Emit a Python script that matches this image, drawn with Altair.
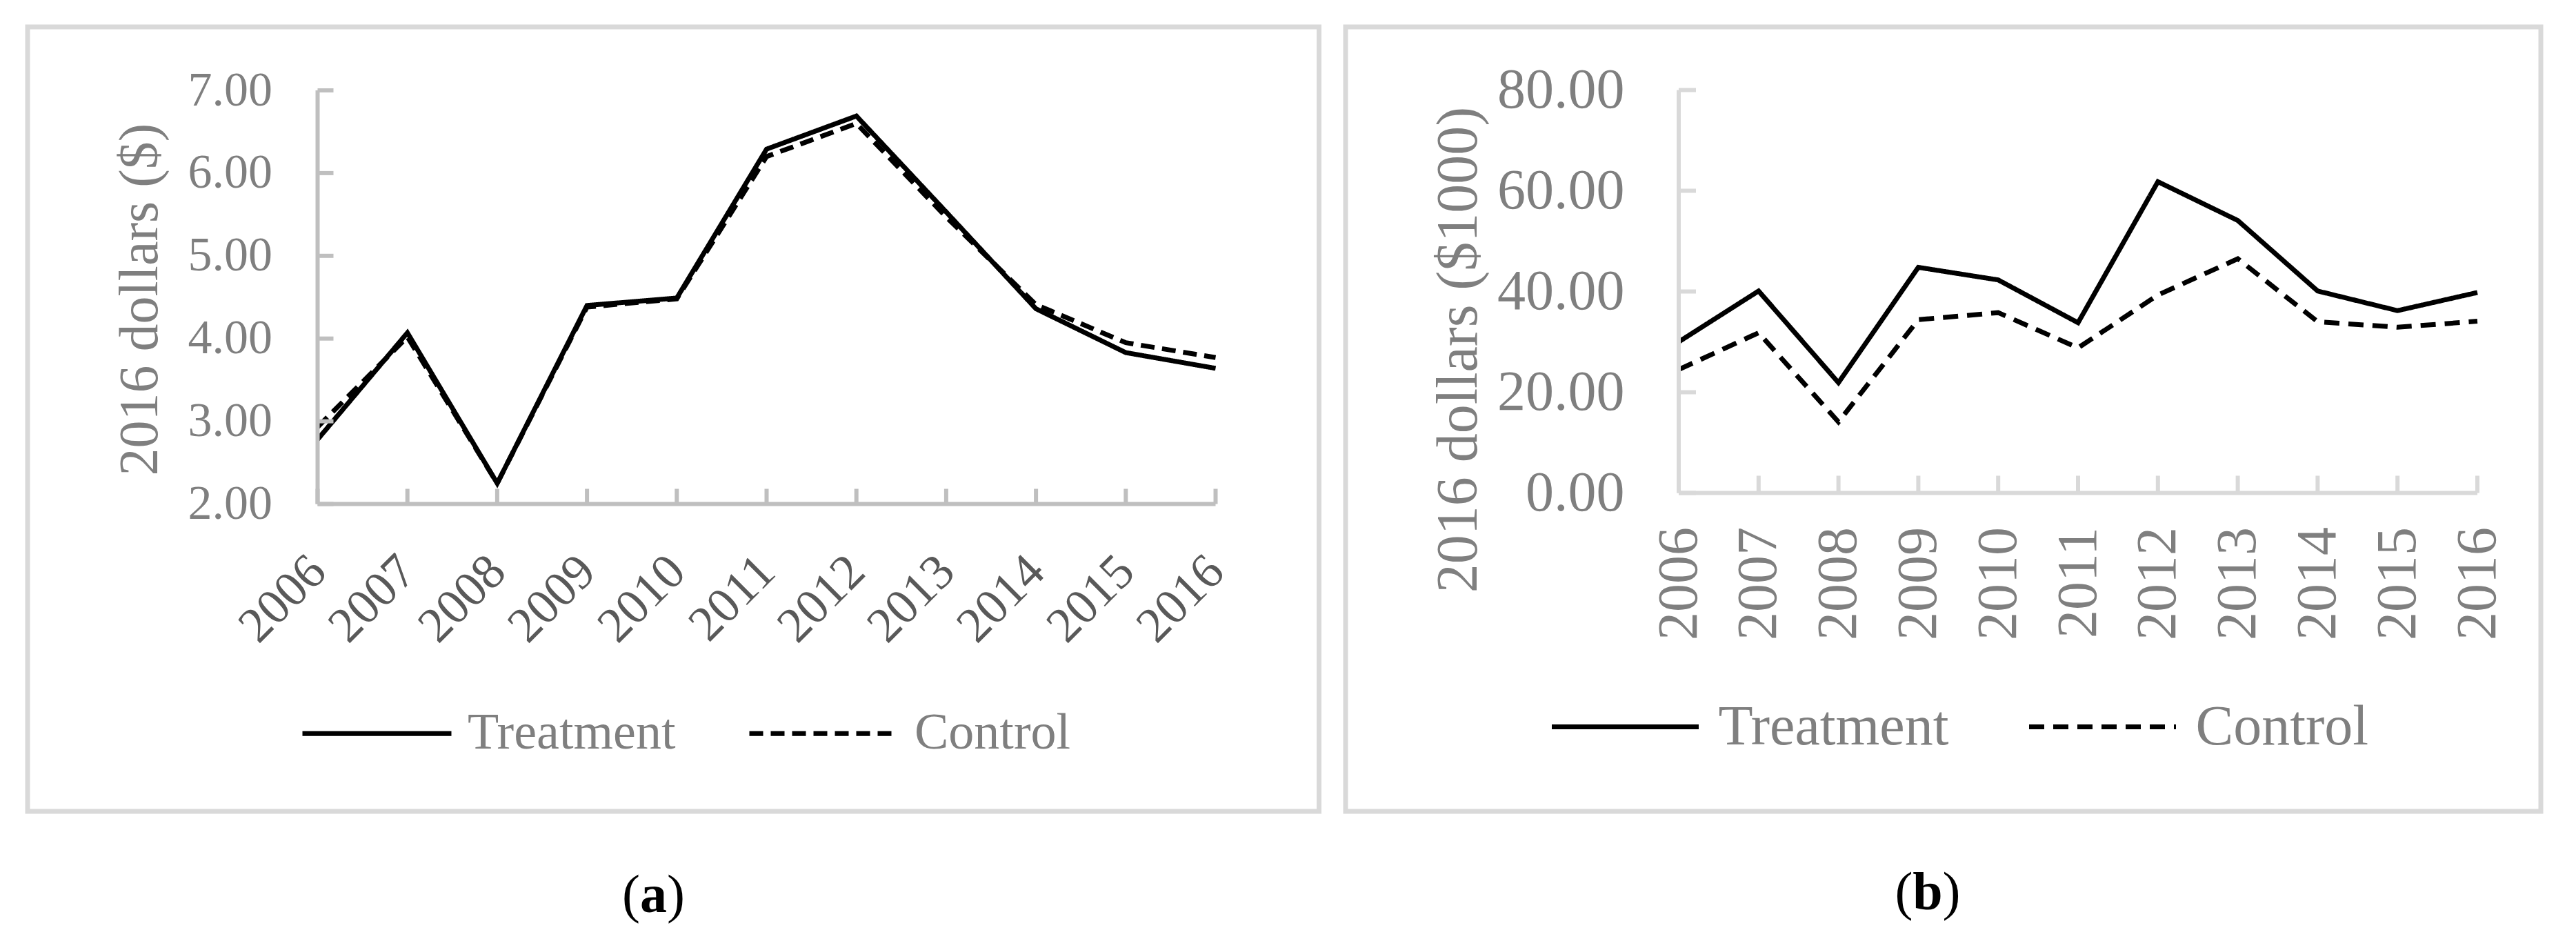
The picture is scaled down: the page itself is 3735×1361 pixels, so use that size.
import altair as alt
import pandas as pd

# ---------------- data ----------------
years = [2006, 2007, 2008, 2009, 2010, 2011, 2012, 2013, 2014, 2015, 2016]
series_names = ["Treatment", "Control"]

a_treatment = [2.78, 4.07, 2.25, 4.40, 4.49, 6.29, 6.69, 5.53, 4.36, 3.83, 3.64]
a_control = [2.93, 4.02, 2.25, 4.38, 4.48, 6.20, 6.60, 5.47, 4.41, 3.95, 3.77]
a_yticks = [2, 3, 4, 5, 6, 7]

b_treatment = [30.0, 40.1, 21.9, 44.8, 42.3, 33.8, 61.8, 54.1, 40.1, 36.2, 39.8]
b_control = [24.5, 31.8, 14.1, 34.4, 35.8, 28.8, 39.3, 46.5, 34.0, 32.9, 34.1]
b_yticks = [0, 20, 40, 60, 80]

captions = [["(", "a", ")"], ["(", "b", ")"]]

FONT = "Liberation Serif"
GRAY = "#7f7f7f"


def long_df(t, c):
    rows = []
    for s, vals in zip(series_names, [t, c]):
        for y, v in zip(years, vals):
            rows.append({"year": y, "value": v, "series": s})
    return pd.DataFrame(rows)


def panel(t, c, yticks, title, cap, cfg):
    W, H = cfg["W"], cfg["H"]
    x0p, x1p = cfg["x0p"], cfg["x1p"]
    ytp, ybp = cfg["ytp"], cfg["ybp"]
    xs = (years[-1] - years[0]) / (x1p - x0p)
    xdom = [years[0] - x0p * xs, years[0] + (W - x0p) * xs]
    ys = (yticks[-1] - yticks[0]) / (ybp - ytp)
    ydom = [yticks[0] - (H - ybp) * ys, yticks[0] + ybp * ys]
    xscale = alt.Scale(domain=xdom, nice=False, zero=False)
    yscale = alt.Scale(domain=ydom, nice=False, zero=False)
    axc = cfg["axc"]

    xaxis = alt.Axis(values=years, format="d", orient="bottom", offset=ybp - H,
                     ticks=False, tickSize=0, domain=False, grid=False,
                     labelAngle=cfg["xangle"], labelAlign="right", labelBaseline="middle",
                     labelPadding=cfg["xpad"], labelFont=FONT, labelFontSize=cfg["xfs"],
                     labelColor=cfg["xcolor"], labelOverlap=False, labelFlush=False,
                     labelLimit=1000, title=None)
    yaxis = alt.Axis(values=yticks, format=".2f", orient="left", offset=-x0p,
                     ticks=False, tickSize=0, domain=False, grid=False,
                     labelPadding=cfg["ypad"], labelFont=FONT, labelFontSize=cfg["yfs"],
                     labelColor=GRAY, labelOverlap=False, labelFlush=False, labelLimit=1000,
                     title=title, titleFont=FONT, titleFontSize=cfg["tfs"], titleFontWeight="normal",
                     titleColor=GRAY, titleAngle=270, titleAlign="center", titleBaseline="middle",
                     titleX=cfg["tx"] - x0p, titleY=cfg["ty"], titleLimit=2000)

    df = long_df(t, c)
    axis_df = pd.DataFrame({"x0": [years[0]], "x1": [years[-1]], "y0": [yticks[0]], "y1": [yticks[-1]]})
    ytick_df = pd.DataFrame({"x": [years[0]] * len(yticks), "y": yticks})
    xtick_df = pd.DataFrame({"x": years, "y": [yticks[0]] * len(years)})

    lines = alt.Chart(df).mark_line(color="black", strokeWidth=cfg["lw"], strokeCap="butt").encode(
        x=alt.X("year:Q", scale=xscale, axis=xaxis),
        y=alt.Y("value:Q", scale=yscale, axis=yaxis),
        strokeDash=alt.StrokeDash(
            "series:N",
            scale=alt.Scale(domain=series_names, range=[[1, 0], cfg["dash"]]),
            sort=series_names,
            legend=alt.Legend(orient="none", legendX=cfg["lgx"], legendY=cfg["lgy"],
                              direction="horizontal", title=None, symbolType="stroke",
                              symbolSize=cfg["lgL"] ** 2, symbolStrokeWidth=7,
                              symbolStrokeColor="black", labelFont=FONT,
                              labelFontSize=cfg["lgfs"], labelColor=GRAY,
                              labelOffset=cfg["lgoff"], columnPadding=cfg["lgcol"],
                              padding=0, labelLimit=2000),
        ),
    )

    yline = alt.Chart(axis_df).mark_rule(color=axc, strokeWidth=6).encode(
        x=alt.X("x0:Q", scale=xscale, axis=xaxis),
        y=alt.Y("y0:Q", scale=yscale, axis=yaxis),
        y2="y1:Q",
    )
    xline = alt.Chart(axis_df).mark_rule(color=axc, strokeWidth=6).encode(
        x=alt.X("x0:Q", scale=xscale, axis=xaxis),
        x2="x1:Q",
        y=alt.Y("y0:Q", scale=yscale, axis=yaxis),
    )
    yt = alt.Chart(ytick_df).mark_rule(color=axc, strokeWidth=6, x2Offset=cfg["ytl"]).encode(
        x=alt.X("x:Q", scale=xscale, axis=xaxis),
        x2="x:Q",
        y=alt.Y("y:Q", scale=yscale, axis=yaxis),
    )
    xt = alt.Chart(xtick_df).mark_rule(color=axc, strokeWidth=6, y2Offset=-cfg["xtl"]).encode(
        x=alt.X("x:Q", scale=xscale, axis=xaxis),
        y=alt.Y("y:Q", scale=yscale, axis=yaxis),
        y2="y:Q",
    )

    cx, cy, cw, cfs = cfg["capx"], cfg["capy"], cfg["capw"], cfg["capfs"]
    cap_layers = []
    for txt, align, xpos, weight in [(cap[0], "right", cx - cw / 2, "normal"),
                                     (cap[1], "center", cx, "bold"),
                                     (cap[2], "left", cx + cw / 2, "normal")]:
        cap_layers.append(
            alt.Chart(pd.DataFrame({"t": [txt]})).mark_text(
                font=FONT, fontSize=cfs, fontWeight=weight, color="black",
                align=align, baseline="middle").encode(
                text="t:N", x=alt.value(xpos), y=alt.value(cy))
        )

    return alt.layer(lines, yline, xline, yt, xt, *cap_layers).properties(width=W, height=H)


cfg_a = dict(W=1872.5, H=1137, x0p=420.5, x1p=1722.5, ytp=92, ybp=691.5, axc="#bfbfbf",
             xangle=315, xpad=86, xfs=72, xcolor="#595959", ypad=66, yfs=70, tfs=80,
             tx=163.5, ty=394.5, lw=7, dash=[20, 11], lgx=395, lgy=912.5, lgL=216,
             lgfs=74, lgoff=20, lgcol=92, ytl=23, xtl=22,
             capx=907.5, capy=1259.5, capw=39, capfs=78)
cfg_b = dict(W=1733, H=1137, x0p=483, x1p=1641, ytp=91.5, ybp=675.5, axc="#d9d9d9",
             xangle=270, xpad=49, xfs=82, xcolor=GRAY, ypad=79, yfs=82, tfs=84,
             tx=164, ty=467.5, lw=7, dash=[22, 13], lgx=295.5, lgy=904.5, lgL=213,
             lgfs=82, lgoff=25, lgcol=101, ytl=25, xtl=25,
             capx=844, capy=1255.5, capw=43, capfs=78)

pa = panel(a_treatment, a_control, a_yticks, "2016 dollars ($)", captions[0], cfg_a)
pb = panel(b_treatment, b_control, b_yticks, "2016 dollars ($1000)", captions[1], cfg_b)

chart = alt.hconcat(pa, pb, spacing=38, bounds="flush").resolve_scale(
    strokeDash="independent").resolve_legend(strokeDash="independent").configure_view(
    stroke="#d9d9d9", strokeWidth=7).properties(
    padding={"left": 28, "top": 27, "right": 5, "bottom": 5})

chart.save("out.html", embed_options={"renderer": "svg", "actions": False})
